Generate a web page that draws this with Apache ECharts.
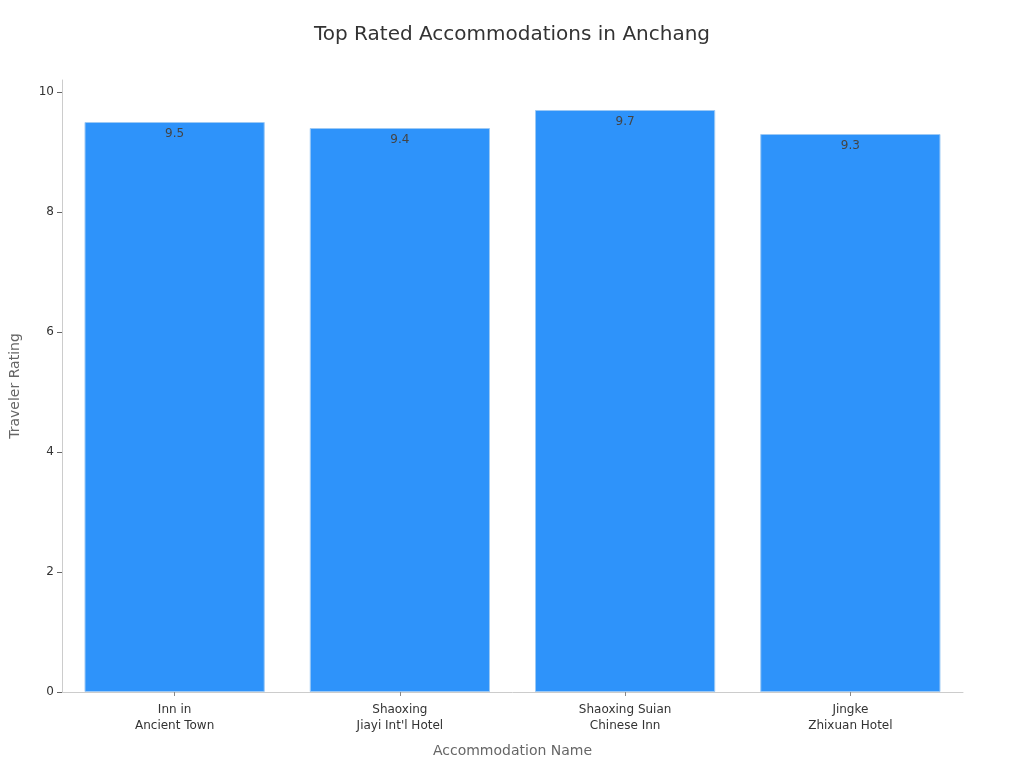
<!DOCTYPE html>
<html><head><meta charset="utf-8">
<script src="https://cdn.jsdelivr.net/npm/echarts@6/dist/echarts.min.js"></script>
<style>html,body{margin:0;padding:0;background:#fff}#c{width:1024px;height:768px}</style>
</head><body><div id="c"></div>
<script>
const categories = ["Inn in\nAncient Town", "Shaoxing\nJiayi Int'l Hotel", "Shaoxing Suian\nChinese Inn", "Jingke\nZhixuan Hotel"];
const ratings = [9.5, 9.4, 9.7, 9.3];
const yTicks = [0, 2, 4, 6, 8, 10];

const chart = echarts.init(document.getElementById('c'));
chart.setOption({
  backgroundColor: '#fff',
  textStyle: { fontFamily: 'DejaVu Sans' },
  title: { text: 'Top Rated Accommodations in Anchang', left: 'center', top: 20,
    textStyle: { fontSize: 20, fontWeight: 'normal', color: '#333', fontFamily: 'DejaVu Sans' } },
  grid: { left: 59, right: 61, top: 80, bottom: 76 },
  xAxis: {
    type: 'category', data: categories,
    name: 'Accommodation Name', nameLocation: 'middle', nameGap: 52,
    nameTextStyle: { fontSize: 14, color: '#666' },
    axisLine: { lineStyle: { color: '#ccc' } },
    axisTick: { show: true, alignWithLabel: true, length: 4, lineStyle: { color: '#888' } },
    axisLabel: { color: '#333', fontSize: 12, lineHeight: 16, margin: 10 }
  },
  yAxis: {
    type: 'value', min: 0, max: 10.2, interval: 2,
    name: 'Traveler Rating', nameLocation: 'middle', nameGap: 40,
    nameTextStyle: { fontSize: 14, color: '#666' },
    axisLine: { show: true, lineStyle: { color: '#ccc' } },
    axisTick: { show: true, length: 5, lineStyle: { color: '#666' } },
    axisLabel: { color: '#333', fontSize: 12, showMaxLabel: false,
      formatter: v => yTicks.includes(v) ? String(v) : '' },
    splitLine: { show: false }
  },
  series: [{
    type: 'bar', data: ratings, barCategoryGap: '20%',
    itemStyle: { color: '#2E93FA', borderColor: '#9cc9f5', borderWidth: 1 },
    label: { show: true, position: 'insideTop', color: '#444', fontSize: 12, distance: 6 }
  }]
});
</script></body></html>
